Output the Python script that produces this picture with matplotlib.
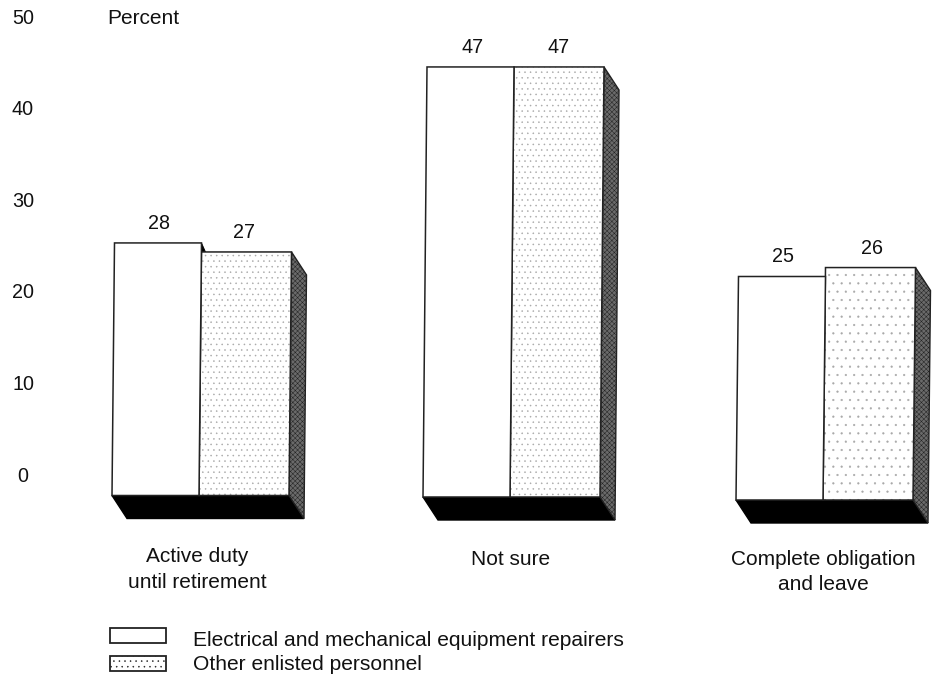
import matplotlib
matplotlib.use("Agg")
import matplotlib.pyplot as plt
from matplotlib.patches import Polygon, Rectangle

categories = ["Active duty\nuntil retirement", "Not sure", "Complete obligation\nand leave"]
repairers = [28, 47, 25]
other_enlisted = [27, 47, 26]
y_ticks = [0, 10, 20, 30, 40, 50]
series_names = ["Electrical and mechanical equipment repairers", "Other enlisted personnel"]

W, H = 935, 679
PX_PER_UNIT = 9.08
ZERO_PX = 497.0

# left edge of each group at the base, base shift of the scan, top lean
GROUP_X = [112, 423, 736]
GROUP_DY = [-1.5, 0, 3]
GROUP_LEAN = [2.5, 4, 2.5]
# the scanned bars are not quite to one scale
GROUP_SCALE = [9.02, 9.15, 8.94]
GROUP_HATCH = ["...", "...", ".."]
LABEL_DX = [(1, -2), (2, 1), (1, 3)]
CAT_DX = [-3, -1, -1]
CAT_DY = [52, 53, 50]
BAR_W = [87, 90]
DEPTH_X, DEPTH_Y = 15, 23
FONT = 15.0

plt.rcParams["font.family"] = ["Liberation Sans", "DejaVu Sans"]
plt.rcParams["hatch.linewidth"] = 0.35

fig = plt.figure(figsize=(W / 100, H / 100), dpi=100, facecolor="white")
ax = fig.add_axes([0, 0, 1, 1])
ax.set_xlim(0, W)
# y axis stays in percent, offsets below are converted from pixels
ax.set_ylim((ZERO_PX - H) / PX_PER_UNIT, ZERO_PX / PX_PER_UNIT)
ax.axis("off")


def px(dy):
    return -dy / PX_PER_UNIT


for i, cat in enumerate(categories):
    x0 = GROUP_X[i]
    base = px(GROUP_DY[i])
    lean = GROUP_LEAN[i]
    scale = GROUP_SCALE[i] / PX_PER_UNIT
    x1 = x0 + BAR_W[0]
    x2 = x1 + BAR_W[1]
    v1 = repairers[i]
    v2 = other_enlisted[i]
    top1 = base + v1 * scale
    top2 = base + v2 * scale

    # floor and side faces first
    ax.add_patch(Polygon(
        [(x0, base), (x2, base), (x2 + DEPTH_X, base + px(DEPTH_Y)), (x0 + DEPTH_X, base + px(DEPTH_Y))],
        facecolor="black", edgecolor="black", lw=1, zorder=2,
    ))
    ax.add_patch(Polygon(
        [(x2 + lean, top2), (x2 + lean + DEPTH_X, top2 + px(DEPTH_Y)),
         (x2 + DEPTH_X, base + px(DEPTH_Y)), (x2, base)],
        facecolor="#6a6a6a", edgecolor="#222222", hatch="xxxxxxx", lw=1, zorder=2,
    ))
    if v1 > v2:
        ax.add_patch(Polygon(
            [(x1 + lean, top1), (x1 + lean + 4, top2), (x1 + lean, top2)],
            facecolor="black", edgecolor="black", lw=0.6, zorder=2,
        ))
    # front faces
    ax.add_patch(Polygon(
        [(x1, base), (x2, base), (x2 + lean, top2), (x1 + lean, top2)],
        facecolor="white", edgecolor="#a8a8a8", hatch=GROUP_HATCH[i], lw=0, zorder=3,
    ))
    ax.add_patch(Polygon(
        [(x1, base), (x2, base), (x2 + lean, top2), (x1 + lean, top2)],
        facecolor="none", edgecolor="#222222", lw=1.1, zorder=4,
    ))
    ax.add_patch(Polygon(
        [(x0, base), (x1, base), (x1 + lean, top1), (x0 + lean, top1)],
        facecolor="white", edgecolor="#222222", lw=1.1, zorder=5,
    ))

    # value labels
    ax.text((x0 + x1) / 2 + lean + LABEL_DX[i][0], top1 + px(-14), str(v1), ha="center", va="baseline", fontsize=FONT * 0.95, color="#111111")
    ax.text((x1 + x2) / 2 + lean - 1 + LABEL_DX[i][1], top2 + px(-14), str(v2), ha="center", va="baseline", fontsize=FONT * 0.95, color="#111111")

    # category label
    ax.text((x0 + x2) / 2 + CAT_DX[i], px(CAT_DY[i]) + base, cat, ha="center", va="top", fontsize=FONT, color="#111111", linespacing=1.4)

for t in y_ticks:
    ax.text(23, t * 9.16 / PX_PER_UNIT + px(-21), str(t), ha="center", va="center", fontsize=FONT * 0.95, color="#111111")
ax.text(107, 50 * 9.16 / PX_PER_UNIT + px(-21), "Percent", ha="left", va="center", fontsize=FONT, color="#111111")

# legend, placed in percent coordinates through px()
for j, name in enumerate(series_names):
    y = px(131 + j * 28)
    ax.add_patch(Rectangle((110, y), 56, px(15), facecolor="white", edgecolor="#222222", lw=1.3,
                           hatch="..." if j else None, zorder=3))
    ax.text(193, px(143 + j * 25), name, ha="left", va="center", fontsize=FONT * 1.01, color="#111111")

fig.savefig("out.png", dpi=100, facecolor="white")
plt.close(fig)
